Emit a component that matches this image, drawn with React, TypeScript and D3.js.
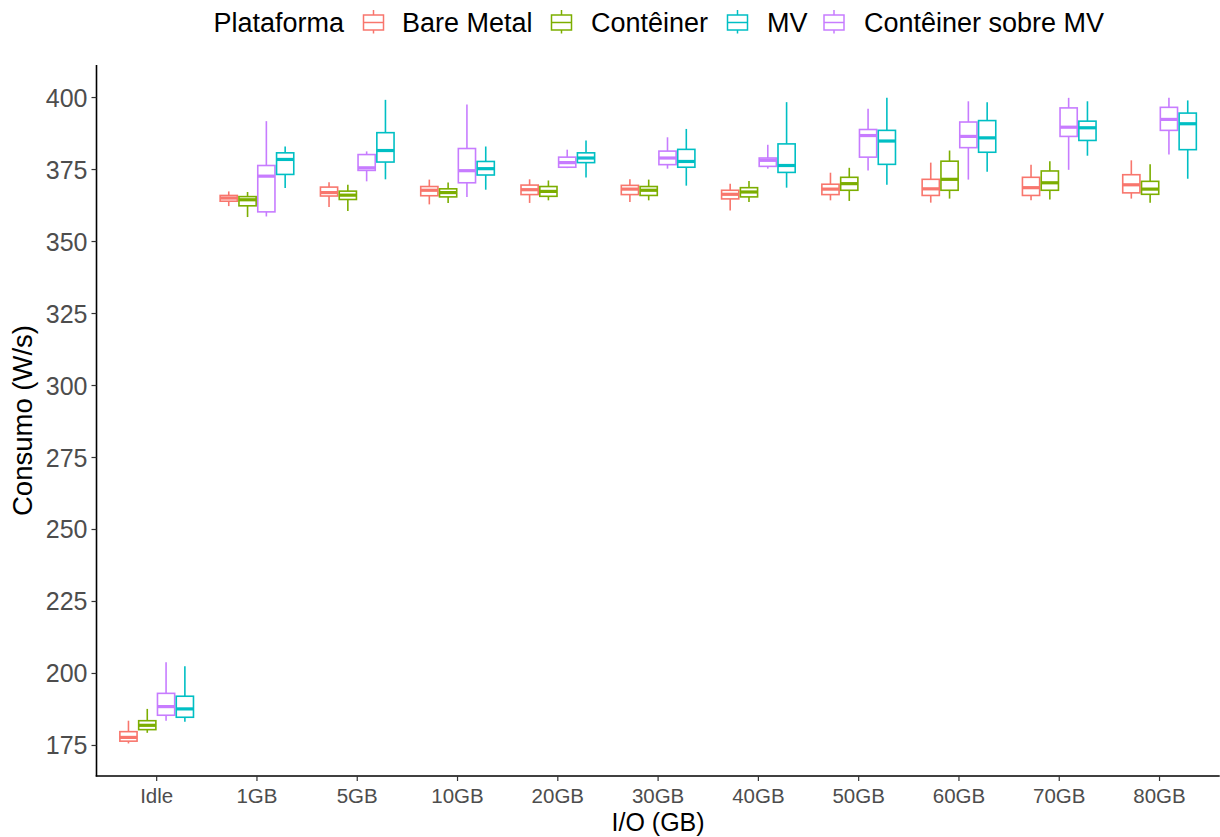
import React from "react";
import * as d3 from "d3";

const categories = ["Idle", "1GB", "5GB", "10GB", "20GB", "30GB", "40GB", "50GB", "60GB", "70GB", "80GB"];

// position order inside a group (factor levels)
const platforms = ["Bare Metal", "Contêiner", "Contêiner sobre MV", "MV"];
const legendOrder = ["Bare Metal", "Contêiner", "MV", "Contêiner sobre MV"];
const colors: Record<string, string> = {
  "Bare Metal": "#F8766D",
  "Contêiner": "#7CAE00",
  "MV": "#00BFC4",
  "Contêiner sobre MV": "#C77CFF",
};

// [min, q1, median, q3, max] for each category
const bareMetal = [
  [175.7, 176.5, 177.8, 179.8, 183.6],
  [362.3, 364.0, 365.1, 366.0, 367.4],
  [362.0, 365.8, 367.0, 368.9, 370.6],
  [362.9, 365.9, 367.8, 369.1, 371.5],
  [363.4, 366.3, 368.0, 369.6, 371.6],
  [363.7, 366.3, 368.2, 369.5, 371.6],
  [360.8, 364.8, 366.4, 367.8, 370.1],
  [364.3, 366.3, 368.2, 369.9, 373.9],
  [363.5, 366.0, 368.3, 371.6, 377.4],
  [364.3, 366.0, 368.7, 372.3, 376.7],
  [364.9, 366.9, 369.7, 373.2, 378.2],
];
const conteiner = [
  [179.4, 180.5, 182.0, 183.6, 187.7],
  [358.5, 362.4, 364.5, 365.6, 367.2],
  [360.6, 364.6, 366.1, 367.5, 369.7],
  [363.4, 365.5, 367.0, 368.3, 370.5],
  [364.3, 365.7, 367.4, 369.1, 371.2],
  [364.3, 366.0, 367.8, 369.1, 371.5],
  [363.7, 365.5, 367.2, 368.7, 371.0],
  [364.1, 367.8, 370.1, 372.3, 375.6],
  [364.9, 367.8, 371.6, 377.9, 381.6],
  [364.6, 367.8, 370.4, 374.5, 377.9],
  [363.5, 366.4, 368.2, 370.9, 376.8],
];
const conteinerSobreMV = [
  [183.6, 185.5, 188.5, 193.1, 203.9],
  [358.7, 360.3, 372.7, 376.4, 391.8],
  [370.9, 374.7, 375.6, 380.2, 381.3],
  [365.5, 370.4, 374.6, 382.3, 397.6],
  [375.5, 375.8, 377.4, 379.3, 381.9],
  [375.3, 376.7, 379.0, 381.4, 386.2],
  [375.3, 376.1, 378.2, 379.0, 383.6],
  [374.7, 379.3, 386.8, 388.9, 396.1],
  [371.5, 382.6, 386.5, 391.5, 398.7],
  [374.9, 386.5, 389.7, 396.4, 399.9],
  [380.2, 388.6, 392.4, 396.6, 399.9],
];
const mv = [
  [183.2, 184.8, 187.7, 192.1, 202.5],
  [368.6, 373.3, 378.5, 380.8, 383.0],
  [371.6, 377.6, 381.6, 387.8, 399.2],
  [368.0, 373.1, 375.3, 377.8, 383.0],
  [372.2, 377.4, 379.0, 380.8, 385.1],
  [369.4, 375.8, 377.8, 382.0, 389.1],
  [368.7, 374.0, 376.4, 383.9, 398.4],
  [369.7, 376.8, 384.9, 388.6, 399.9],
  [374.2, 381.0, 386.0, 392.0, 398.4],
  [379.8, 385.1, 389.5, 391.8, 398.7],
  [371.8, 381.9, 390.9, 394.6, 399.0],
];

const stats: Record<string, number[][]> = {
  "Bare Metal": bareMetal,
  "Contêiner": conteiner,
  "Contêiner sobre MV": conteinerSobreMV,
  "MV": mv,
};

const yTicks = [175, 200, 225, 250, 275, 300, 325, 350, 375, 400];

const W = 1220;
const H = 837;
const panel = { left: 96.5, right: 1219.7, top: 65, bottom: 776 };
const font = "Liberation Sans, Arial, Helvetica, sans-serif";

export default function App() {
  const x = d3
    .scalePoint<string>()
    .domain(categories)
    .range([panel.left, panel.right])
    .padding(0.6);
  const dodge = d3
    .scaleBand<string>()
    .domain(platforms)
    .range([-x.step() * 0.375, x.step() * 0.375]);
  const y = d3.scaleLinear().domain([164.4, 411.3]).range([panel.bottom, panel.top]);
  const bw = dodge.bandwidth();

  // legend layout
  const legendY = 22;
  const keyX = [373.5, 561.5, 737.5, 834];
  const textX = [402, 591, 767, 864];

  return (
    <svg
      width={W}
      height={H}
      style={{ position: "absolute", left: 0, top: 0, background: "#fff" }}
      fontFamily={font}
    >
      {/* boxes */}
      {platforms.map((p) => (
        <g key={p} stroke={colors[p]} fill="#fff">
          {stats[p].map((s, i) => {
            const cx = (x(categories[i]) as number) + (dodge(p) as number) + bw / 2;
            const bx = cx - bw / 2 + 0.8;
            const w = bw - 1.6;
            return (
              <g key={i}>
                <line x1={cx} x2={cx} y1={y(s[4])} y2={y(s[3])} strokeWidth={1.6} />
                <line x1={cx} x2={cx} y1={y(s[1])} y2={y(s[0])} strokeWidth={1.6} />
                <rect x={bx} y={y(s[3])} width={w} height={y(s[1]) - y(s[3])} strokeWidth={1.6} />
                <line x1={bx} x2={bx + w} y1={y(s[2])} y2={y(s[2])} strokeWidth={3.2} />
              </g>
            );
          })}
        </g>
      ))}

      {/* y axis */}
      <line x1={panel.left} x2={panel.left} y1={panel.top} y2={panel.bottom + 0.5} stroke="#000" strokeWidth={1.6} />
      {yTicks.map((t) => (
        <g key={t}>
          <line x1={panel.left - 5} x2={panel.left} y1={y(t)} y2={y(t)} stroke="#333" strokeWidth={1.2} />
          <text x={panel.left - 9} y={y(t)} dy="0.36em" textAnchor="end" fontSize={25} fill="#4D4D4D">
            {t}
          </text>
        </g>
      ))}

      {/* x axis */}
      <line x1={panel.left - 0.8} x2={panel.right} y1={panel.bottom} y2={panel.bottom} stroke="#000" strokeWidth={1.6} />
      {categories.map((c) => (
        <g key={c}>
          <line x1={x(c)} x2={x(c)} y1={panel.bottom} y2={panel.bottom + 5} stroke="#333" strokeWidth={1.2} />
          <text x={x(c)} y={panel.bottom + 27} textAnchor="middle" fontSize={20.5} fill="#4D4D4D">
            {c}
          </text>
        </g>
      ))}

      {/* axis titles */}
      <text x={(panel.left + panel.right) / 2} y={830.5} textAnchor="middle" fontSize={25} fill="#000">
        I/O (GB)
      </text>
      <text
        transform={`translate(32, ${(panel.top + panel.bottom) / 2}) rotate(-90)`}
        textAnchor="middle"
        fontSize={27.5}
        fill="#000"
      >
        Consumo (W/s)
      </text>

      {/* legend */}
      <text x={213.5} y={legendY} dy="0.36em" fontSize={27} fill="#000">
        Plataforma
      </text>
      {legendOrder.map((key, i) => (
        <g key={key}>
          <g stroke={colors[key]} fill="#fff" strokeWidth={1.5}>
            <line x1={keyX[i]} x2={keyX[i]} y1={legendY - 12} y2={legendY - 7} />
            <line x1={keyX[i]} x2={keyX[i]} y1={legendY + 8} y2={legendY + 11.5} />
            <rect x={keyX[i] - 10} y={legendY - 7} width={20} height={15} />
            <line x1={keyX[i] - 10} x2={keyX[i] + 10} y1={legendY + 0.5} y2={legendY + 0.5} />
          </g>
          <text x={textX[i]} y={legendY} dy="0.36em" fontSize={27} fill="#000">
            {key}
          </text>
        </g>
      ))}
    </svg>
  );
}
